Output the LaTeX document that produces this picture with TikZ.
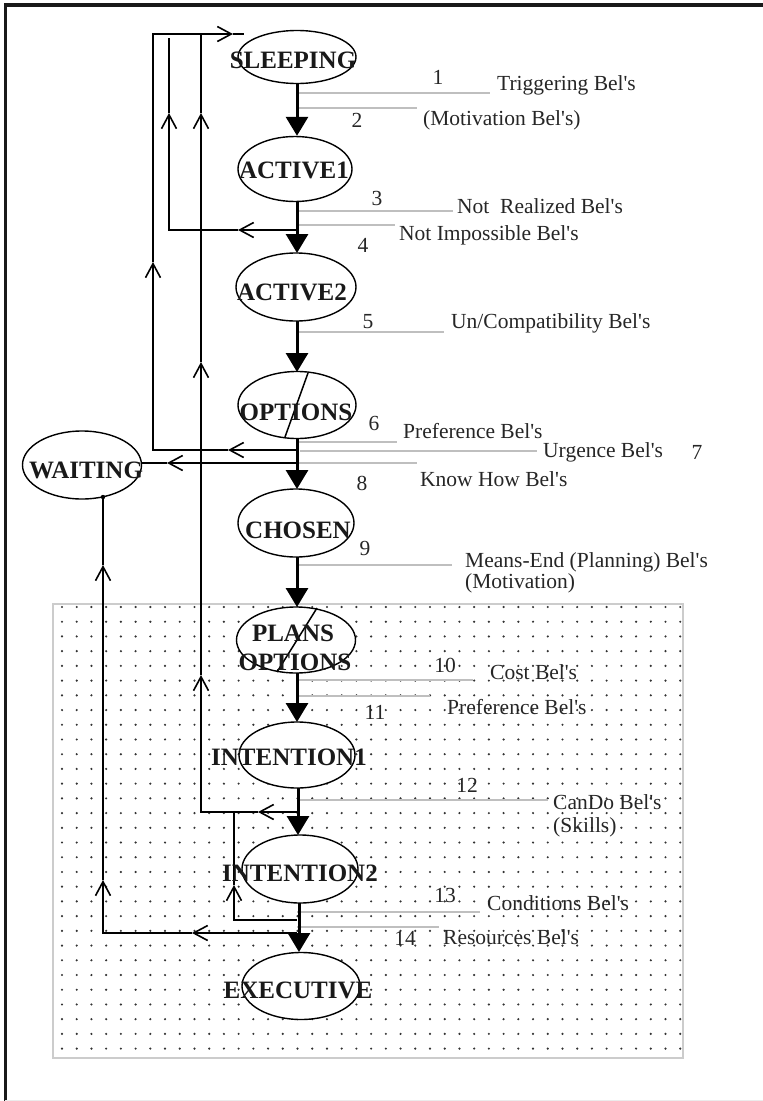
\documentclass[tikz,border=0pt]{standalone}
\usepackage{fontspec}
\setmainfont{Liberation Serif}
\usetikzlibrary{shapes.geometric,arrows.meta}
\newcommand\apo{\textquotesingle}
\begin{document}
\begin{tikzpicture}[x=1pt,y=-1pt,
 st/.style={ellipse,draw,fill=white,line width=1.4pt,inner sep=0pt},
 nt/.style={font=\fontsize{25}{28}\selectfont\bfseries,inner sep=0pt,text=black!90},
 lt/.style={font=\fontsize{21.5}{24}\selectfont,inner sep=0pt,anchor=west,text=black!85},
 num/.style={font=\fontsize{21.5}{24}\selectfont,inner sep=0pt,text=black!85},
 gl/.style={draw=black!25,line width=1.4pt},
 fb/.style={line width=1.6pt},
 fba/.style={line width=1.6pt,-{Straight Barb[length=14pt,width=15pt]}},
 mainarr/.style={line width=3pt,-{Triangle[length=19pt,width=22pt]}},
 dotc/.style={fill=black!80}]
\useasboundingbox (0,0) rectangle (763,1101);
% frame
\draw[line width=4pt,black!90] (4,5) -- (763,5);
\draw[line width=3.5pt,black!90] (5.5,4) -- (5.5,1101);
\draw[line width=1pt,black!8] (5,1100) -- (763,1100);
% dotted region
\draw[draw=black!20,line width=1.8pt] (53,604) rectangle (683,1058);
\foreach \i in {0,...,42}{\foreach \j in {0,...,30}{\fill[dotc] (62+\i*14.72,607+\j*14.72) circle (1.2pt);}}
% ellipses
\node[st,minimum width=118pt,minimum height=53pt] (sl) at (297,57) {};
\node[st,minimum width=114pt,minimum height=65pt] (a1) at (295,169) {};
\node[st,minimum width=120pt,minimum height=68pt] (a2) at (296,287) {};
\node[st,minimum width=118pt,minimum height=67pt] (op) at (297,405) {};
\node[st,minimum width=119pt,minimum height=68pt] (wa) at (82,465) {};
\node[st,minimum width=116pt,minimum height=68pt] (ch) at (296,523) {};
\node[st,minimum width=119pt,minimum height=66pt] (po) at (296,640) {};
\node[st,minimum width=116pt,minimum height=66pt] (i1) at (297,755) {};
\node[st,minimum width=116pt,minimum height=68pt] (i2) at (300,869) {};
\node[st,minimum width=118pt,minimum height=67pt] (ex) at (301,986) {};
% slashes
\coordinate (s1a) at (308,373); \coordinate (s1b) at (285,437);
\draw[line width=1.5pt] (s1a) -- (s1b);
\coordinate (s2a) at (317,608); \coordinate (s2b) at (277,672);
\draw[line width=1.5pt] (s2a) -- (s2b);
% gray label lines
\draw[gl] (297,93) -- (490,93);
\draw[gl] (297,108) -- (417,108);
\draw[gl] (297,211) -- (453,211);
\draw[gl] (297,225) -- (395,225);
\draw[gl] (297,332) -- (444,332);
\draw[gl] (297,442) -- (397,442);
\draw[gl] (300,451) -- (537,451);
\draw[gl] (297,463) -- (417,463);
\draw[gl] (297,565) -- (452,565);
\draw[gl] (297,680) -- (473,680);
\draw[gl] (297,696) -- (430,696);
\draw[gl] (300,800) -- (548,800);
\draw[gl] (297,912) -- (480,912);
\draw[gl] (297,927) -- (439,927);
% main arrows
\draw[mainarr] (sl.south) -- (sl.south |- a1.north);
\draw[mainarr] (297,202) -- (297,253);
\draw[mainarr] (297,321) -- (297,372);
\draw[mainarr] (297,438) -- (297,489);
\draw[mainarr] (297,557) -- (297,607);
\draw[mainarr] (297,673) -- (297,722);
\draw[mainarr] (298,788) -- (298,835);
\draw[mainarr] (299,903) -- (299,952);
% feedback path A
\coordinate (pA) at (297,450); \coordinate (aA1) at (228,450); \coordinate (cA1) at (153,450);
\coordinate (aA2) at (153,262); \coordinate (cA2) at (153,34); \coordinate (aA3) at (233,34); \coordinate (eA) at (244,34);
\draw[fba] (pA) -- (aA1);
\draw[fba] (aA1) -- (cA1) -- (aA2);
\draw[fba] (aA2) -- (cA2) -- (aA3);
\draw[fb] (aA3) -- (eA);
% path B
\coordinate (pB) at (297,230); \coordinate (aB1) at (238,230); \coordinate (cB1) at (169,230);
\coordinate (aB2) at (169,113); \coordinate (eB) at (169,38);
\draw[fba] (pB) -- (aB1);
\draw[fba] (aB1) -- (cB1) -- (aB2);
\draw[fb] (aB2) -- (eB);
% path C
\coordinate (pC) at (297,812); \coordinate (aC1) at (258,812); \coordinate (cC1) at (201,812);
\coordinate (aC2) at (201,675); \coordinate (aC3) at (201,362); \coordinate (aC4) at (201,113); \coordinate (eC) at (201,34);
\draw[fba] (pC) -- (aC1);
\draw[fba] (aC1) -- (cC1) -- (aC2);
\draw[fba] (aC2) -- (aC3);
\draw[fba] (aC3) -- (aC4);
\draw[fb] (aC4) -- (eC);
% path D
\coordinate (pD) at (297,463); \coordinate (aD1) at (167,463);
\draw[fba] (pD) -- (aD1);
\draw[fb] (aD1) -- (aD1 -| wa.east);
% path E
\coordinate (pE) at (297,933); \coordinate (aE1) at (192,933); \coordinate (cE1) at (103,933);
\coordinate (aE2) at (103,880); \coordinate (aE3) at (103,565); \coordinate (dE) at (103,497);
\draw[fba] (pE) -- (aE1);
\draw[fba] (aE1) -- (cE1) -- (aE2);
\draw[fba] (aE2) -- (aE3);
\draw[fb] (aE3) -- (dE);
\fill (dE) circle (2.2pt);
% path F
\coordinate (pF) at (297,920); \coordinate (cF1) at (234,920); \coordinate (aF1) at (234,885); \coordinate (eF) at (234,813);
\draw[fba] (pF) -- (cF1) -- (aF1);
\draw[fb] (aF1) -- (eF);
% node texts
\node[nt] (tsl) at (293,60) {SLEEPING};
\node[nt] (ta1) at (294,170) {ACTIVE1};
\node[nt] (ta2) at (292,292) {ACTIVE2};
\node[nt] (top) at (296,412) {OPTIONS};
\node[nt] (twa) at (86,470) {WAITING};
\node[nt] (tch) at (298,530) {CHOSEN};
\node[nt] (tpo1) at (293,633) {PLANS};
\node[nt] (tpo2) at (295,662) {OPTIONS};
\node[nt] (ti1) at (289,757) {INTENTION1};
\node[nt] (ti2) at (300,873) {INTENTION2};
\node[nt] (tex) at (298,990) {EXECUTIVE};
% numbers
\node[num] (n1) at (438,77) {1};
\node[num] (n2) at (357,120) {2};
\node[num] (n3) at (377,198) {3};
\node[num] (n4) at (363,245) {4};
\node[num] (n5) at (368,322) {5};
\node[num] (n6) at (374,423) {6};
\node[num] (n7) at (697,452) {7};
\node[num] (n8) at (362,483) {8};
\node[num] (n9) at (365,548) {9};
\node[num] (n10) at (445,665) {10};
\node[num] (n11) at (375,712) {11};
\node[num] (n12) at (467,785) {12};
\node[num] (n13) at (445,895) {13};
\node[num] (n14) at (405,938) {14};
% labels
\node[lt] (l1) at (497,85) {Triggering Bel\apo s};
\node[lt] (l2) at (423,120) {(Motivation Bel\apo s)};
\node[lt] (l3) at (457,206) {Not\ \ Realized Bel\apo s};
\node[lt] (l4) at (399,235) {Not Impossible Bel\apo s};
\node[lt] (l5) at (451,323) {Un/Compatibility Bel\apo s};
\node[lt] (l6) at (403,431) {Preference Bel\apo s};
\node[lt] (l7) at (543,452) {Urgence Bel\apo s};
\node[lt] (l8) at (420,479) {Know How Bel\apo s};
\node[lt] (l9a) at (465,562) {Means-End (Planning) Bel\apo s};
\node[lt] (l9b) at (465,583) {(Motivation)};
\node[lt] (l10) at (490,672) {Cost Bel\apo s};
\node[lt] (l11) at (447,707) {Preference Bel\apo s};
\node[lt] (l12a) at (553,802) {CanDo Bel\apo s};
\node[lt] (l12b) at (553,827) {(Skills)};
\node[lt] (l13) at (487,903) {Conditions Bel\apo s};
\node[lt] (l14) at (443,937) {Resources Bel\apo s};
\end{tikzpicture}
\end{document}
